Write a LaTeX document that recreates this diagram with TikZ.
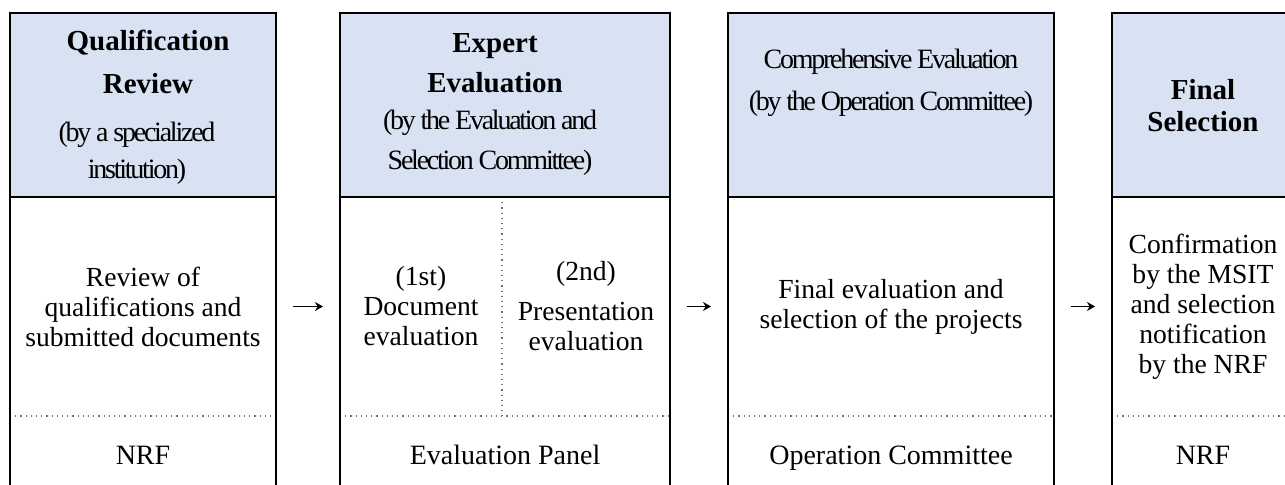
\documentclass[tikz,border=0pt]{standalone}
\usepackage{fontspec}
\setmainfont{Liberation Serif}
\usetikzlibrary{arrows.meta}
\definecolor{headblue}{RGB}{217,226,243}

\begin{document}
\begin{tikzpicture}[x=0.5pt,y=-0.5pt,>={Stealth[length=4pt,width=4.5pt]},
    headbox/.style={draw=black,line width=1pt,fill=headblue,minimum height=92pt,inner sep=0pt,outer sep=0pt},
    cellbox/.style={minimum height=109.5pt,inner sep=0pt,outer sep=0pt,align=center,font=\fontsize{13.8}{15}\selectfont},
    footbox/.style={minimum height=39pt,inner sep=0pt,outer sep=0pt,text height=9.5pt,text depth=3pt,font=\fontsize{14}{15}\selectfont},
    titletext/.style={align=center,inner sep=0pt,font=\fontsize{14.5}{#1}\selectfont\bfseries},
    subtext/.style={align=center,inner sep=0pt,font=\fontsize{14}{#1}\selectfont\addfontfeature{LetterSpace=-8}},
    framebox/.style={draw=black,line width=1pt},
    splitline/.style={draw=black!55,line width=0.6pt,dotted},
    flowarrow/.style={->,line width=0.7pt,shorten <=8.5pt,shorten >=8.5pt}]
\useasboundingbox (0,0) rectangle (1285,485);
\clip (0,0) rectangle (1285,485);

%Header boxes of the four stages
\node[headbox,minimum width=133pt] (hd1) at (143,105) {};
\node[headbox,minimum width=165pt] (hd2) at (505,105) {};
\node[headbox,minimum width=163pt] (hd3) at (891,105) {};
\node[headbox,minimum width=91pt] (hd4) at (1203,105) {};

\node[titletext=21.5pt] (hd1t) at (148,61.5) {Qualification\\Review};
\node[subtext=18.5pt] (hd1s) at (137,153.5) {(by a specialized\\institution)};
\node[titletext=20pt] (hd2t) at (495,63) {Expert\\Evaluation};
\node[subtext=20pt] (hd2s) at (490,143) {(by the Evaluation and\\Selection Committee)};
\node[subtext=21pt] (hd3s) at (891,83) {Comprehensive Evaluation\\(by the Operation Committee)};
\node[titletext=16pt] (hd4t) at (1203,106) {Final\\Selection};

%Middle row: what is done at each stage
\node[cellbox,minimum width=133pt] (bd1) at (143,306.5) {Review of\\qualifications and\\submitted documents};
\node[cellbox,minimum width=81pt] (bd2a) at (421,306.5) {(1st)\\Document\\evaluation};
\node[cellbox,minimum width=84pt] (bd2b) at (586,306.5) {(2nd)\\[5pt]Presentation\\evaluation};
\node[cellbox,minimum width=163pt] (bd3) at (891,306.5) {Final evaluation and\\selection of the projects};
\node[cellbox,minimum width=91pt] (bd4) at (1203,306.5) {Confirmation\\by the MSIT\\and selection\\notification\\by the NRF};

%Bottom row: who does it
\node[footbox,minimum width=133pt] (ft1) at (143,458) {NRF};
\node[footbox,minimum width=165pt] (ft2) at (505,458) {Evaluation Panel};
\node[footbox,minimum width=163pt] (ft3) at (891,458) {Operation Committee};
\node[footbox,minimum width=91pt] (ft4) at (1203,458) {NRF};

%Dotted separators
\draw[splitline] (bd1.south west) -- (bd1.south east);
\draw[splitline] (bd2a.south west) -- (bd2b.south east);
\draw[splitline] (bd2a.north east) -- (bd2a.south east);
\draw[splitline] (bd3.south west) -- (bd3.south east);
\draw[splitline] (bd4.south west) -- (bd4.south east);

%Outer frames below the headers
\draw[framebox] (hd1.south west) rectangle (ft1.south east);
\draw[framebox] (hd2.south west) rectangle (ft2.south east);
\draw[framebox] (hd3.south west) rectangle (ft3.south east);
\draw[framebox] (hd4.south west) rectangle (ft4.south east);

%Arrows between the stages
\draw[flowarrow] (bd1.east) -- (bd2a.west);
\draw[flowarrow] (bd2b.east) -- (bd3.west);
\draw[flowarrow] (bd3.east) -- (bd4.west);
\end{tikzpicture}
\end{document}
